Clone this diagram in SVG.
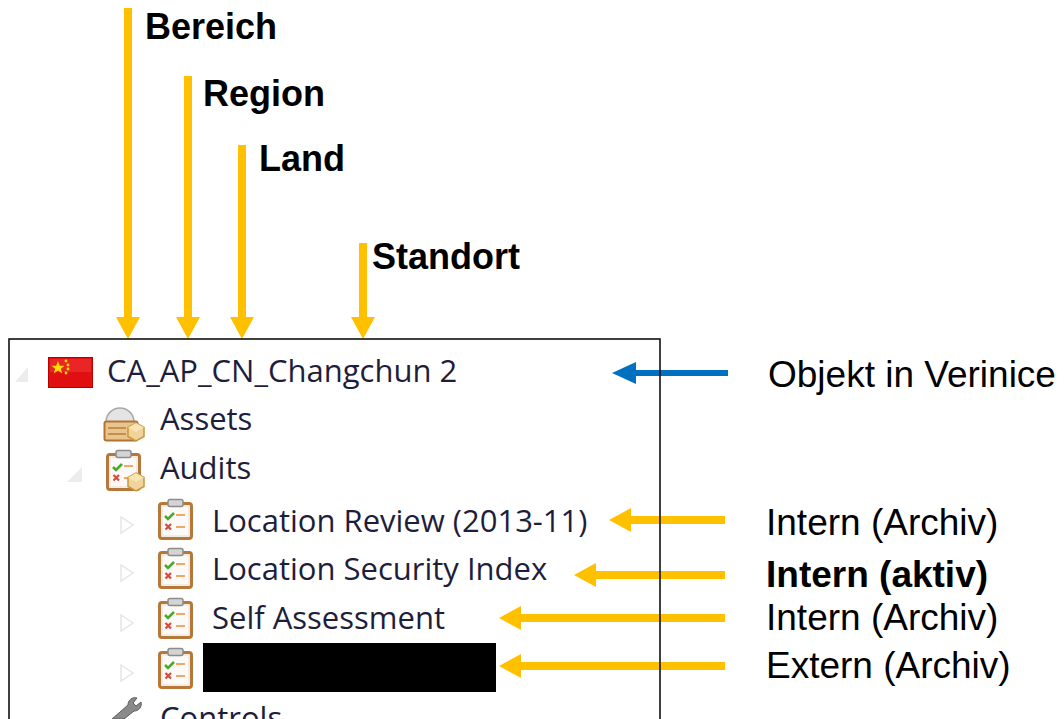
<svg xmlns="http://www.w3.org/2000/svg" xmlns:xlink="http://www.w3.org/1999/xlink" width="1064" height="719" viewBox="0 0 1064 719">
<style>
.lbl{font-family:"Liberation Sans",Arial,sans-serif;font-size:36px;fill:#000}
.r{font-size:37px}
.b{font-weight:bold}
.tree{font-family:"Open Sans","Noto Sans",sans-serif;font-size:31px;fill:#1e1e3c}
.oarr{stroke:#FFC000;stroke-width:8;fill:none;marker-end:url(#ho)}
.barr{stroke:#0070C0;stroke-width:6;fill:none;marker-end:url(#hb)}
.exp{fill:#ececec}
.expo{fill:none;stroke:#e6e6e6;stroke-width:1.5}
</style>
<defs>
<marker id="ho" viewBox="0 0 22 24" refX="8" refY="12" markerWidth="22" markerHeight="24" markerUnits="userSpaceOnUse" orient="auto">
<path d="M0,0 L22,12 L0,24 z" fill="#FFC000"/>
</marker>
<marker id="hb" viewBox="0 0 24 22" refX="8" refY="11" markerWidth="24" markerHeight="22" markerUnits="userSpaceOnUse" orient="auto">
<path d="M0,0 L24,11 L0,22 z" fill="#0070C0"/>
</marker>
<g id="clip">
<rect x="1.5" y="4.5" width="32" height="35" rx="2.5" fill="#f3ece2" stroke="#b5773a" stroke-width="3"/>
<rect x="5" y="8" width="25" height="28" fill="#fbfaf8"/>
<rect x="10" y="0.5" width="15" height="7" rx="2" fill="#d4d4d4" stroke="#8c8c8c" stroke-width="1.5"/>
<path d="M7,17 l3,3 l6,-6" stroke="#4aa92a" stroke-width="2.6" fill="none"/>
<path d="M18,16 h9 M18,28 h9" stroke="#f0a868" stroke-width="2.2"/>
<path d="M7.5,25 l5.5,5.5 M13,25 l-5.5,5.5" stroke="#d44a3c" stroke-width="2.2"/>
</g>
<g id="hex">
<polygon points="0,-9 8,-4.5 8,4.5 0,9 -8,4.5 -8,-4.5" fill="#f0d49a" stroke="#c8963c" stroke-width="1.5"/>
<polygon points="0,-9 8,-4.5 0,0 -8,-4.5" fill="#f8e4b4"/>
</g>
</defs>
<rect width="1064" height="719" fill="#fff"/>

<g id="tree-root">
<polygon class="exp" points="28,367 28,382 15,382"/>
<g id="flag">
<rect x="48.5" y="357.5" width="44" height="30" fill="#e01010" stroke="#b80000"/>
<rect x="50" y="359" width="41" height="13" fill="#f23a3a" opacity="0.5"/>
<polygon points="58,361 59.8,365.8 64.5,365.8 60.8,368.8 62.2,373.5 58,370.6 53.8,373.5 55.2,368.8 51.5,365.8 56.2,365.8" fill="#ffde00"/>
<circle cx="66" cy="361" r="1.4" fill="#ffde00"/>
<circle cx="68" cy="365" r="1.4" fill="#ffde00"/>
<circle cx="68" cy="369" r="1.4" fill="#ffde00"/>
<circle cx="66" cy="373" r="1.4" fill="#ffde00"/>
</g>
<text class="tree" x="107" y="382">CA_AP_CN_Changchun 2</text>
</g>

<g id="tree-assets">
<path d="M106,422 a14,14 0 0 1 28,0 z" fill="#e4e4e4" stroke="#a8a8a8" stroke-width="1.5"/>
<rect x="104.5" y="421.5" width="33" height="19" rx="2" fill="#e8c48e" stroke="#b27432" stroke-width="2"/>
<path d="M108,428 h18 M108,434 h18" stroke="#c98e4c" stroke-width="2"/>
<use xlink:href="#hex" href="#hex" transform="translate(136,432)"/>
<text class="tree" x="160" y="430">Assets</text>
</g>

<g id="tree-audits">
<polygon class="exp" points="82,467 82,482 67,482"/>
<use xlink:href="#clip" href="#clip" transform="translate(106,450)"/>
<use xlink:href="#hex" href="#hex" transform="translate(136,482)"/>
<text class="tree" x="160" y="479">Audits</text>
</g>

<g id="audit-1">
<polygon class="expo" points="121,517 133,525 121,533"/>
<use xlink:href="#clip" href="#clip" transform="translate(158,499)"/>
<text class="tree" x="212" y="532">Location Review (2013-11)</text>
</g>
<g id="audit-2">
<polygon class="expo" points="121,565 133,573 121,581"/>
<use xlink:href="#clip" href="#clip" transform="translate(158,548)"/>
<text class="tree" x="212" y="580">Location Security Index</text>
</g>
<g id="audit-3">
<polygon class="expo" points="121,615 133,623 121,631"/>
<use xlink:href="#clip" href="#clip" transform="translate(158,598)"/>
<text class="tree" x="212" y="629">Self Assessment</text>
</g>
<g id="audit-4">
<polygon class="expo" points="121,665 133,673 121,681"/>
<use xlink:href="#clip" href="#clip" transform="translate(158,648)"/>
<rect x="203" y="643" width="293" height="49" fill="#000"/>
</g>
<g id="tree-controls">
<path d="M112,719 L128,705 a7,7 0 0 1 9,-7 l-4,5 l3,3 l5,-4 a7,7 0 0 1 -7,9 L124,719 z" fill="#8a8a8a" stroke="#5a5a5a" stroke-width="1"/>
<text class="tree" x="160" y="729">Controls</text>
</g>

<g id="connectors">
<line class="oarr" x1="128" y1="8" x2="128" y2="325"/>
<line class="oarr" x1="188" y1="76" x2="188" y2="325"/>
<line class="oarr" x1="242" y1="145" x2="242" y2="325"/>
<line class="oarr" x1="363" y1="243" x2="363" y2="325"/>
<line class="barr" x1="728" y1="373" x2="628" y2="373"/>
<line class="oarr" x1="725" y1="520" x2="623" y2="520"/>
<line class="oarr" x1="725" y1="575" x2="588" y2="575"/>
<line class="oarr" x1="725" y1="618" x2="513" y2="618"/>
<line class="oarr" x1="725" y1="666" x2="513" y2="666"/>
</g>

<rect id="frame" x="9" y="339" width="651" height="420" fill="none" stroke="#111" stroke-width="1.6"/>

<g id="labels">
<text class="lbl b" x="145" y="39">Bereich</text>
<text class="lbl b" x="203" y="106">Region</text>
<text class="lbl b" x="259" y="171">Land</text>
<text class="lbl b" x="372" y="269">Standort</text>
<text class="lbl r" x="768" y="387">Objekt in Verinice</text>
<text class="lbl r" x="766" y="535">Intern (Archiv)</text>
<text class="lbl r b" x="766" y="587">Intern (aktiv)</text>
<text class="lbl r" x="766" y="630">Intern (Archiv)</text>
<text class="lbl r" x="766" y="678">Extern (Archiv)</text>
</g>
</svg>
